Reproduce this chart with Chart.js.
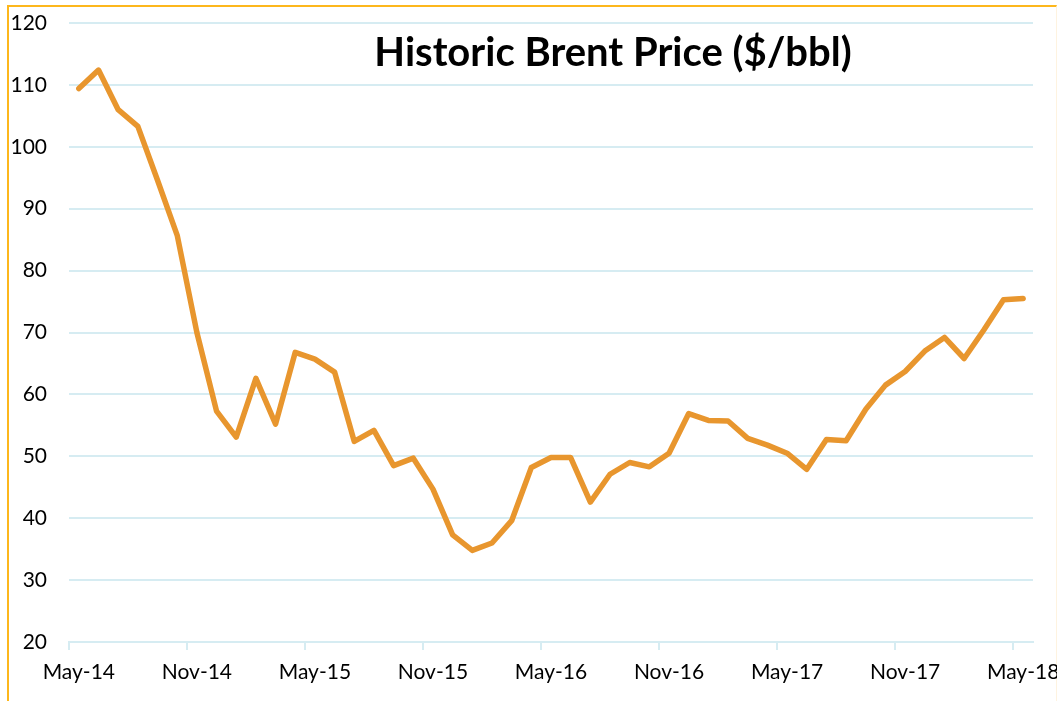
<!DOCTYPE html>
<html>
<head>
<meta charset="utf-8">
<script src="https://cdn.jsdelivr.net/npm/chart.js@4"></script>
<style>
  html, body { margin: 0; padding: 0; background: #fff; overflow: hidden; }
  #frame {
    position: absolute; left: 7px; top: 5px; width: 1047px; height: 740px;
    border-left: 2px solid #FDB71C; border-top: 2px solid #FDB71C; border-right: 1px solid #FEF3E0;
  }
  #wrap { position: absolute; left: 0; top: 0; width: 1057px; height: 701px; }
</style>
</head>
<body>
<div id="frame"></div>
<div id="wrap"><canvas id="brentChart"></canvas></div>
<script>
// month labels, May-14 .. May-18
const months = [
  "May-14", "Jun-14", "Jul-14", "Aug-14", "Sep-14", "Oct-14", "Nov-14", "Dec-14",
  "Jan-15", "Feb-15", "Mar-15", "Apr-15", "May-15", "Jun-15", "Jul-15", "Aug-15",
  "Sep-15", "Oct-15", "Nov-15", "Dec-15", "Jan-16", "Feb-16", "Mar-16", "Apr-16",
  "May-16", "Jun-16", "Jul-16", "Aug-16", "Sep-16", "Oct-16", "Nov-16", "Dec-16",
  "Jan-17", "Feb-17", "Mar-17", "Apr-17", "May-17", "Jun-17", "Jul-17", "Aug-17",
  "Sep-17", "Oct-17", "Nov-17", "Dec-17", "Jan-18", "Feb-18", "Mar-18", "Apr-18",
  "May-18"
];

// Brent price ($/bbl)
const brentPrice = [
  109.4, 112.4, 106.0, 103.3, 94.6, 85.7, 70.0, 57.3,
  53.1, 62.6, 55.2, 66.8, 65.7, 63.6, 52.4, 54.2,
  48.5, 49.7, 44.7, 37.3, 34.8, 36.0, 39.6, 48.2,
  49.8, 49.8, 42.6, 47.1, 49.0, 48.3, 50.5, 56.9,
  55.8, 55.7, 52.9, 51.8, 50.5, 47.9, 52.7, 52.5,
  57.6, 61.5, 63.7, 67.0, 69.2, 65.8, 70.4, 75.3,
  75.5
];

const yTicks = [20, 30, 40, 50, 60, 70, 80, 90, 100, 110, 120];
const labelEvery = 6;

const chartTitle = "Historic Brent Price ($/bbl)";
const fontFamily = "Lato, 'Open Sans', sans-serif";
const gridBlue = "#D6ECF2";

// draws the title inside the plot, like the original
const titlePlugin = {
  id: "innerTitle",
  afterDraw(chart) {
    const c = chart.ctx;
    c.save();
    c.font = "bold 40px " + fontFamily;
    c.fillStyle = "#000";
    c.textAlign = "center";
    c.textBaseline = "alphabetic";
    c.fillText(chartTitle, 613, 66);
    c.restore();
  }
};

const ctx = document.getElementById("brentChart").getContext("2d");
new Chart(ctx, {
  type: "line",
  data: {
    labels: months,
    datasets: [{
      label: "Brent",
      data: brentPrice,
      borderColor: "#E8962E",
      borderWidth: 5.5,
      borderJoinStyle: "round",
      borderCapStyle: "round",
      pointRadius: 0,
      tension: 0,
      fill: false
    }]
  },
  options: {
    responsive: true,
    maintainAspectRatio: false,
    animation: false,
    layout: { padding: { left: 0, right: 24, top: 23, bottom: 0 } },
    plugins: {
      legend: { display: false },
      tooltip: { enabled: false }
    },
    scales: {
      x: {
        offset: true,
        grid: {
          offset: true,
          drawOnChartArea: false,
          drawTicks: true,
          tickLength: 8,
          lineWidth: 2,
          color: (c) => (c.index % labelEvery === 0 ? gridBlue : "rgba(0,0,0,0)")
        },
        border: { display: true, color: gridBlue, width: 2 },
        ticks: {
          autoSkip: false,
          maxRotation: 0,
          minRotation: 0,
          padding: 10,
          color: "#000",
          font: { family: fontFamily, size: 21 },
          callback: function (val, i) {
            return i % labelEvery === 0 ? this.getLabelForValue(val) : "";
          }
        },
        afterFit(scale) {
          scale.height = 59;
          scale.paddingLeft = 0;
          scale.paddingRight = 0;
        }
      },
      y: {
        min: yTicks[0],
        max: yTicks[yTicks.length - 1],
        afterBuildTicks(scale) {
          scale.ticks = yTicks.map(v => ({ value: v }));
        },
        grid: { color: gridBlue, lineWidth: 2, drawTicks: false },
        border: { display: false },
        ticks: {
          padding: 22,
          color: "#000",
          font: { family: fontFamily, size: 21 }
        },
        afterFit(scale) {
          scale.width = 69;
          scale.paddingTop = 0;
          scale.paddingBottom = 0;
        }
      }
    }
  },
  plugins: [titlePlugin]
});
</script>
</body>
</html>
